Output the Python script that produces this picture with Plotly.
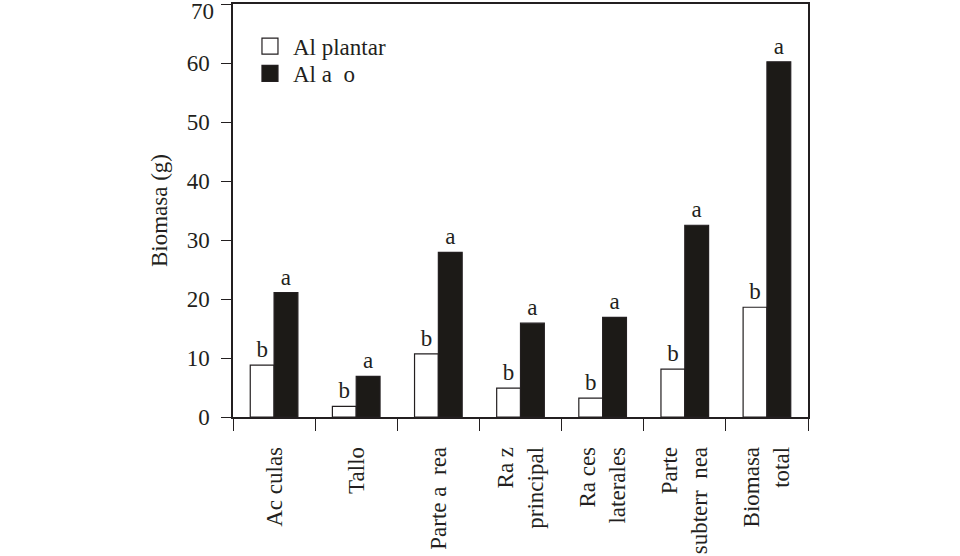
import plotly.graph_objects as go

NB = "\u00a0"
categories = ["Ac" + NB + "culas", "Tallo", "Parte a" + NB * 2 + "rea", "Ra" + NB + "z<br>principal",
              "Ra" + NB + "ces<br>laterales", "Parte<br>subterr" + NB * 2 + "nea", "Biomasa<br>total"]
al_plantar = [8.8, 1.8, 10.7, 4.9, 3.2, 8.1, 18.6]
al_ano = [21.1, 6.9, 27.9, 15.9, 16.9, 32.5, 60.2]
letters_plantar = ["b"] * 7
letters_ano = ["a"] * 7
series_names = ["Al plantar", "Al a" + NB * 2 + "o"]
y_ticks = [0, 10, 20, 30, 40, 50, 60, 70]
y_max = 70

INK = "#231f20"
FONT = "Liberation Serif, Times New Roman, serif"
FS = 23

fig = go.Figure()
fig.add_trace(go.Bar(
    x=categories, y=al_plantar, name=series_names[0], showlegend=False,
    marker=dict(color="white", line=dict(color=INK, width=1.2)),
    text=letters_plantar, textposition="outside", cliponaxis=False,
    textfont=dict(family=FONT, size=FS, color=INK),
))
fig.add_trace(go.Bar(
    x=categories, y=al_ano, name=series_names[1], showlegend=False,
    marker=dict(color="#1c1a17", line=dict(color=INK, width=1.2)),
    text=letters_ano, textposition="outside", cliponaxis=False,
    textfont=dict(family=FONT, size=FS, color=INK),
))
# legend entries (one legend per item to match the tight spacing)
fig.add_trace(go.Scatter(x=[None], y=[None], mode="markers", name=series_names[0],
                         legend="legend",
                         marker=dict(symbol="square", size=17, color="white",
                                     line=dict(color=INK, width=1.2))))
fig.add_trace(go.Scatter(x=[None], y=[None], mode="markers", name=series_names[1],
                         legend="legend2",
                         marker=dict(symbol="square", size=17, color="#1c1a17",
                                     line=dict(color=INK, width=1.2))))

leg_common = dict(xanchor="left", yanchor="top", bgcolor="rgba(0,0,0,0)",
                  font=dict(family=FONT, size=FS, color=INK), itemwidth=36,
                  borderwidth=0)
fig.update_layout(
    width=960, height=556,
    margin=dict(l=233, r=152, t=4, b=139, autoexpand=False),
    paper_bgcolor="white", plot_bgcolor="white",
    font=dict(family=FONT, size=FS, color=INK),
    barmode="group", bargap=0.42, bargroupgap=0.0,
    showlegend=True,
    legend=dict(x=0.0243, y=0.95, **leg_common),
    legend2=dict(x=0.0243, y=0.884, **leg_common),
)
fig.update_xaxes(
    type="category", tickson="boundaries", ticks="outside", ticklen=12,
    tickwidth=1.2, tickcolor=INK, tickangle=-90, automargin=False,
    showline=True, linecolor=INK, linewidth=1.5, mirror=True,
    showgrid=False, zeroline=False, ticklabelstandoff=19,
    tickfont=dict(family=FONT, size=FS, color=INK),
)
# top tick label drawn as an annotation nudged down so it is not cut at the edge
tick_text = [str(v) if v != y_max else "" for v in y_ticks]
fig.update_yaxes(
    range=[0, y_max], tickvals=y_ticks, ticktext=tick_text, ticks="outside", ticklen=10,
    tickwidth=1.2, tickcolor=INK, automargin=False,
    showline=True, linecolor=INK, linewidth=1.5, mirror=True,
    showgrid=False, zeroline=False, ticklabelstandoff=7,
    ticklabeloverflow="allow",
    tickfont=dict(family=FONT, size=FS, color=INK),
    title=dict(text="Biomasa (g)", font=dict(family=FONT, size=FS, color=INK), standoff=13),
)
fig.add_annotation(x=0, xref="paper", y=y_max, yref="y", text=str(y_max),
                   showarrow=False, xanchor="right", yanchor="middle",
                   xshift=-17, yshift=-7, font=dict(family=FONT, size=FS, color=INK))

fig.write_html("out.html", config={"displayModeBar": False},
               post_script="document.body.style.margin='0';")
